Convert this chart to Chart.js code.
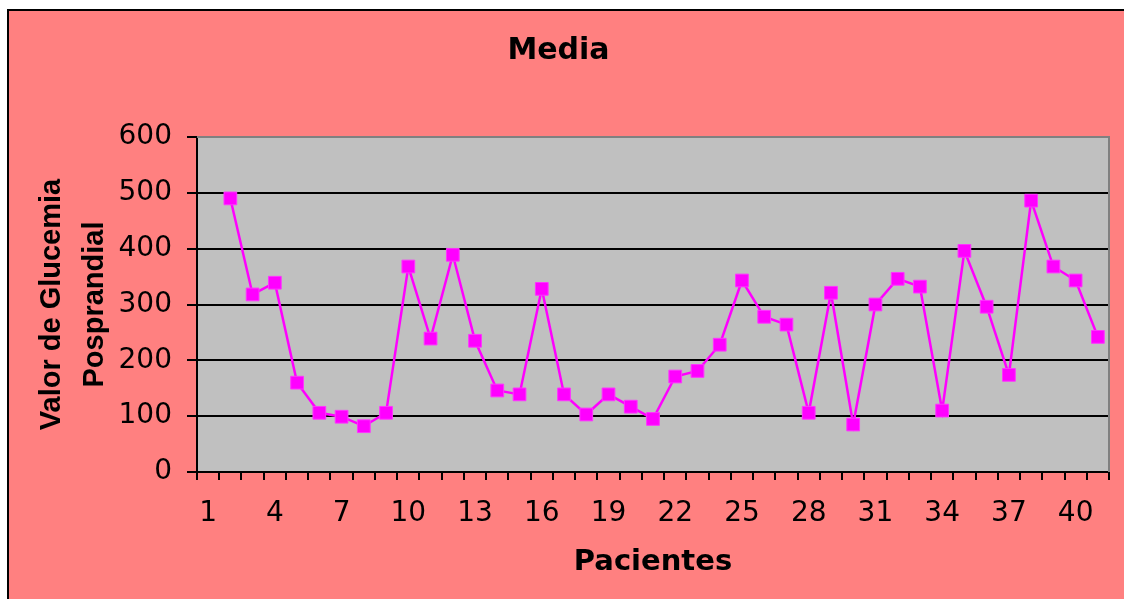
<!DOCTYPE html>
<html>
<head>
<meta charset="utf-8">
<script src="https://cdn.jsdelivr.net/npm/chart.js@4/dist/chart.umd.min.js"></script>
<style>
  html, body { margin: 0; padding: 0; background: #fff; overflow: hidden; }
  #wrap { width: 1124px; height: 599px; }
</style>
</head>
<body>
<div id="wrap"><canvas id="mediaChart" width="1124" height="599"></canvas></div>
<script>
const pacientes = [];
for (let i = 1; i <= 41; i++) pacientes.push(String(i));

// patient 1 has no value in the original sheet
const glucemia = [null,
    490, 318, 339, 160, 106, 99, 82, 106, 368, 239,
    389, 235, 146, 139, 328, 139, 103, 139, 117, 95,
    171, 181, 228, 343, 278, 264, 106, 321, 85, 300,
    346, 332, 110, 396, 296, 174, 486, 368, 343, 242];

const yTicks = [0, 100, 200, 300, 400, 500, 600];

const backdrop = {
    id: 'backdrop',
    beforeDraw(chart) {
        const ctx = chart.ctx;
        const a = chart.chartArea;
        ctx.save();
        ctx.fillStyle = '#ffffff';
        ctx.fillRect(0, 0, chart.width, chart.height);
        ctx.fillStyle = '#FF8080';
        ctx.fillRect(7, 9, chart.width, chart.height);
        // outer frame, only top and left are inside the picture
        ctx.strokeStyle = '#000';
        ctx.lineWidth = 2;
        ctx.beginPath();
        ctx.moveTo(8, chart.height);
        ctx.lineTo(8, 10);
        ctx.lineTo(chart.width, 10);
        ctx.stroke();
        ctx.fillStyle = '#C0C0C0';
        ctx.fillRect(a.left, a.top, a.right - a.left, a.bottom - a.top);
        ctx.restore();
    },
    afterDatasetsDraw(chart) {
        const ctx = chart.ctx;
        const a = chart.chartArea;
        ctx.save();
        ctx.strokeStyle = '#808080';
        ctx.lineWidth = 2;
        ctx.beginPath();
        ctx.moveTo(a.left, a.top);
        ctx.lineTo(a.right, a.top);
        ctx.lineTo(a.right, a.bottom);
        ctx.stroke();
        ctx.restore();
    }
};

const ctx = document.getElementById('mediaChart').getContext('2d');
const mediaChart = new Chart(ctx, {
    type: 'line',
    data: {
        labels: pacientes,
        datasets: [{
            label: 'Media',
            data: glucemia,
            borderColor: '#FF00FF',
            backgroundColor: '#FF00FF',
            borderWidth: 2.5,
            pointStyle: 'rect',
            pointRadius: 9,
            pointBorderWidth: 1,
            pointBorderColor: '#FF33FF',
            pointBackgroundColor: '#FF00FF',
            tension: 0,
            fill: false
        }]
    },
    options: {
        responsive: false,
        animation: false,
        devicePixelRatio: 1,
        layout: { padding: { left: 8, right: 15, top: 0, bottom: 0 } },
        plugins: {
            legend: { display: false },
            tooltip: { enabled: false },
            title: {
                display: true,
                text: 'Media',
                color: '#000',
                font: { family: 'DejaVu Sans', size: 30, weight: 'bold', lineHeight: 1.2 },
                padding: { top: 33, bottom: 68 }
            }
        },
        scales: {
            x: {
                type: 'category',
                offset: true,
                grid: {
                    offset: true,
                    drawOnChartArea: false,
                    drawTicks: true,
                    tickLength: 8,
                    color: '#000',
                    lineWidth: 2
                },
                border: { display: true, color: '#000', width: 2 },
                ticks: {
                    autoSkip: false,
                    maxRotation: 0,
                    color: '#000',
                    padding: 17,
                    font: { family: 'DejaVu Sans', size: 28 },
                    callback: function(val, i) {
                        return i % 3 === 0 ? this.getLabelForValue(val) : '';
                    }
                },
                title: {
                    display: true,
                    text: 'Pacientes',
                    color: '#000',
                    font: { family: 'DejaVu Sans', size: 29, weight: 'bold', lineHeight: 1.2 },
                    padding: { top: 0, bottom: 19 }
                },
                afterFit(scale) { scale.height = 127; }
            },
            y: {
                min: 0,
                max: 600,
                afterBuildTicks(scale) { scale.ticks = yTicks.map(v => ({ value: v })); },
                grid: {
                    color: c => c.tick && c.tick.value === 600 ? '#808080' : '#000',
                    lineWidth: 2,
                    tickLength: 10,
                    tickColor: '#000'
                },
                border: { display: true, color: '#000', width: 2 },
                ticks: {
                    color: '#000',
                    padding: 15,
                    font: { family: 'DejaVu Sans', size: 28 }
                },
                title: {
                    display: true,
                    text: ['Valor de Glucemia', 'Posprandial'],
                    color: '#000',
                    font: { family: 'Liberation Sans', size: 29, weight: 'bold', lineHeight: 1.5 },
                    padding: { top: 22, bottom: 0 }
                },
                afterFit(scale) { scale.width = 189; }
            }
        }
    },
    plugins: [backdrop]
});
</script>
</body>
</html>
